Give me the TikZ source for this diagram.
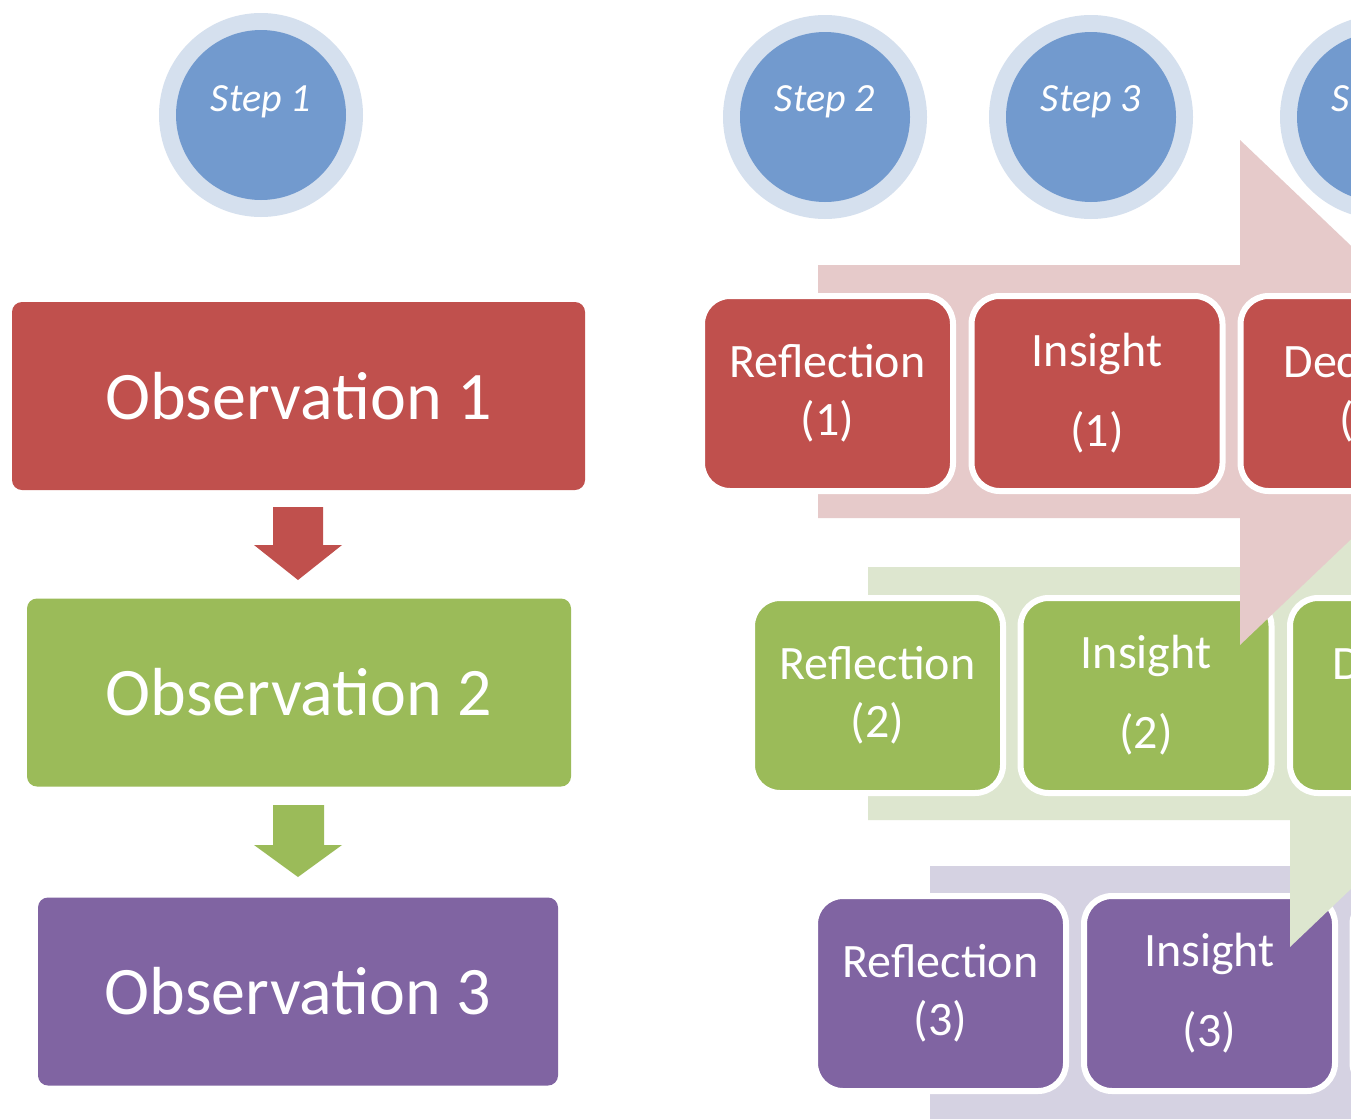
\documentclass[tikz,border=0pt]{standalone}
\usepackage{fontspec}
\setmainfont{Carlito}
\usetikzlibrary{calc}
\definecolor{obsred}{HTML}{C0504D}
\definecolor{obsgreen}{HTML}{9BBB59}
\definecolor{obspurple}{HTML}{8064A2}
\definecolor{bandred}{HTML}{E6CACA}
\definecolor{bandgreen}{HTML}{DDE6CF}
\definecolor{bandpurple}{HTML}{D5D2E2}
\definecolor{stepblue}{HTML}{729ACE}
\definecolor{stepringc}{HTML}{D5E0EE}
\begin{document}
\begin{tikzpicture}[x=1pt,y=-1pt,
  obsbox/.style={rectangle, rounded corners=10pt, minimum height=188pt, text=white,
    font=\fontsize{68}{80}\selectfont, inner sep=0pt},
  rowbox/.style={rectangle, rounded corners=28pt, minimum width=251pt, minimum height=195pt,
    draw=white, line width=6pt, text=white, align=center,
    font=\fontsize{48}{58}\selectfont, inner sep=0pt},
  ringnode/.style={circle, fill=stepringc, minimum size=204pt, inner sep=0pt},
  corenode/.style={circle, fill=stepblue, minimum size=170pt, inner sep=0pt},
  steplabel/.style={text=white, font=\fontsize{40}{48}\selectfont\itshape, inner sep=0pt, anchor=base}
]
\useasboundingbox (0,0) rectangle (1351,1119);
\clip (0,0) rectangle (1351,1119);
\fill[white] (0,0) rectangle (1351,1119);

% ---- left column ----
\node[obsbox, fill=obsred, minimum width=573pt] (o1) at (298.5,396) {Observation 1};
\node[obsbox, fill=obsgreen, minimum width=544pt] (o2) at (299,692.5) {Observation 2};
\node[obsbox, fill=obspurple, minimum width=520pt] (o3) at (298,991.5) {Observation 3};

\fill[obsred] (273,507) -- (323,507) -- (323,545) -- (342,545) -- (298,580) -- (254,545) -- (273,545) -- cycle;
\fill[obsgreen] (273,805) -- (324,805) -- (324,845) -- (342,845) -- (298,877) -- (254,845) -- (273,845) -- cycle;

% ---- row 3 (purple) ----
\fill[bandpurple] (930,866) -- (1352,866) -- (1352,741) -- (1617,993.5) -- (1352,1246) -- (1352,1119) -- (930,1119) -- cycle;
\node[rowbox, fill=obspurple] (r3) at (940.5,993.5) {Reflection\\(3)};
\node[rowbox, fill=obspurple] (i3) at (1209.5,993.5) {Insight\\[22pt](3)};
\node[rowbox, fill=obspurple] (d3) at (1478,993.5) {};

% ---- row 2 (green) ----
\fill[bandgreen] (868,567) -- (1290,567) -- (1290,442) -- (1555,694.5) -- (1290,947) -- (1290,820) -- (868,820) -- cycle;
\node[rowbox, fill=obsgreen] (r2) at (877.5,695.5) {Reflection\\(2)};
\node[rowbox, fill=obsgreen] (i2) at (1146,695.5) {Insight\\[22pt](2)};
\node[rowbox, fill=obsgreen] (d2) at (1415.5,695.5) {Decision\\(2)};

% ---- row 1 (red) ----
\fill[bandred] (818,265) -- (1240,265) -- (1240,140) -- (1505,392.5) -- (1240,645) -- (1240,518) -- (818,518) -- cycle;
\node[rowbox, fill=obsred] (r1) at (827.5,393.5) {Reflection\\(1)};
\node[rowbox, fill=obsred] (i1) at (1097,393.5) {Insight\\[22pt](1)};
\node[rowbox, fill=obsred] (d1) at (1366,393.5) {Decision\\(1)};

% ---- step circles ----
\foreach \n/\cx/\cy in {1/261/115, 2/825/117, 3/1091/117, 4/1382/117}{
  \node[ringnode] (ring\n) at (\cx,\cy) {};
  \node[corenode] (core\n) at (\cx,\cy) {};
  \node[steplabel] (lab\n) at (\cx,111) {Step \n};
}
\end{tikzpicture}
\end{document}
